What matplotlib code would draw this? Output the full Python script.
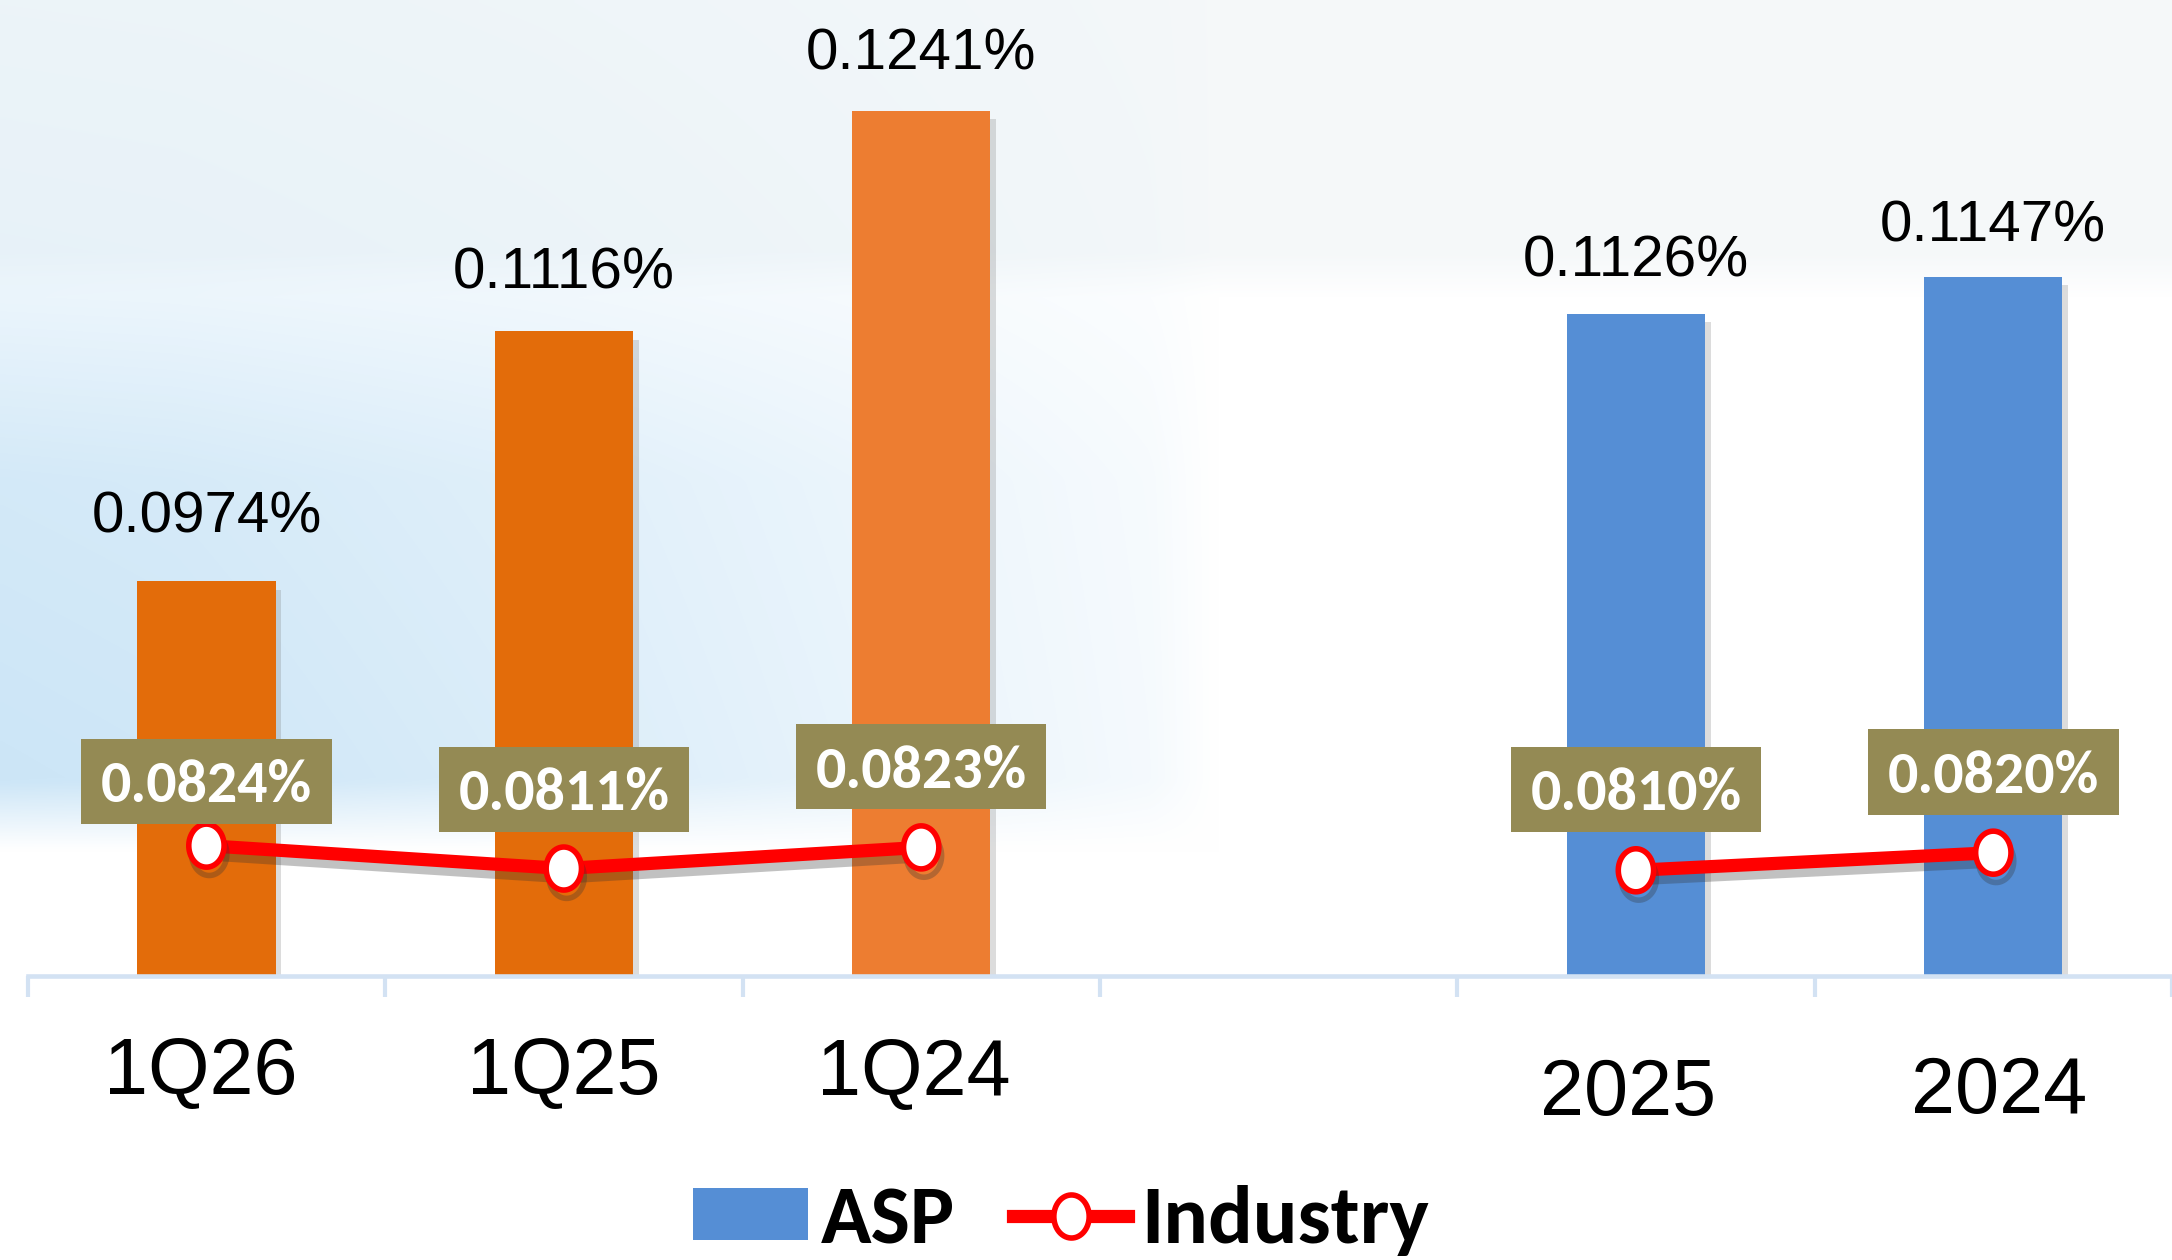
import numpy as np
import matplotlib
matplotlib.use('Agg')
import matplotlib.pyplot as plt
from matplotlib import font_manager as fm
from matplotlib.patches import Patch
from matplotlib.lines import Line2D
from matplotlib.path import Path
import matplotlib.patheffects as pe

# ---------------- data ----------------
categories = ['1Q26', '1Q25', '1Q24', '', '2025', '2024']
asp_values = [0.0974, 0.1116, 0.1241, None, 0.1126, 0.1147]
industry_quarter_cats = ['1Q26', '1Q25', '1Q24']
industry_quarter = [0.0824, 0.0811, 0.0823]
industry_year_cats = ['2025', '2024']
industry_year = [0.0810, 0.0820]
legend_labels = ['ASP', 'Industry']

# ---------------- styles ----------------
bar_colors = ['#E36C0A', '#E36C0A', '#ED7D31', 'none', '#558ED5', '#558ED5']
label_box_color = '#948A54'
axis_color = '#D3E2F3'
value_label_dy = {'1Q26': 35, '1Q25': 31, '1Q24': 30, '2025': 27, '2024': 25}
industry_label_dy = {'1Q26': 43, '1Q25': 54, '1Q24': 55, '2025': 55, '2024': 55}
cat_label_off = {'1Q26': (-4, 85), '1Q25': (0, 85), '1Q24': (-5, 86), '2025': (-6, 100), '2024': (4, 99)}

names = {f.name for f in fm.fontManager.ttflist}
def pick(*cands):
    for c in cands:
        if c in names:
            return c
    return 'DejaVu Sans'

light_font = pick('Helvetica Neue', 'Liberation Sans', 'Roboto', 'DejaVu Sans')
bold_font = pick('Carlito', 'Liberation Sans Narrow', 'Lato', 'Open Sans', 'DejaVu Sans')

W, H = 2172, 1260
fig = plt.figure(figsize=(W / 100, H / 100), dpi=100)

# ---------------- background ----------------
bg = fig.add_axes([0, 0, 1, 1], zorder=-10)
ny, nx = 252, 434
ys = np.linspace(0, 1, ny)[:, None]
xs = np.linspace(0, 1, nx)[None, :]
blue = np.array([0.80, 0.90, 0.968])
tint = np.array([0.962, 0.973, 0.978])
a_x = np.interp(xs, [0, 0.08, 0.25, 0.40, 0.53, 0.56], [1.0, 0.95, 0.72, 0.45, 0.2, 0.0])
a_y = np.interp(ys, [0, 0.22, 0.38, 0.62, 0.675], [0.22, 0.35, 0.85, 1.0, 0.0])
a_blue = a_x * a_y
a_tint = np.interp(ys, [0, 0.2, 0.235], [1.0, 1.0, 0.0]) * np.ones_like(xs)
img = np.ones((ny, nx, 3))
img = img * (1 - a_tint[..., None]) + tint * a_tint[..., None]
img = img * (1 - a_blue[..., None]) + blue * a_blue[..., None]
bg.imshow(img, aspect='auto', interpolation='bilinear', extent=[0, 1, 1, 0])
bg.set_xlim(0, 1)
bg.set_ylim(1, 0)
bg.axis('off')

# ---------------- main axes ----------------
base_px = 976
left_px = 27.75
ymin = 0.075
ax = fig.add_axes([left_px / W, (H - base_px) / H, 1 - left_px / W, base_px / H])
ax.patch.set_alpha(0)
ax.set_xlim(-0.5, 5.4645)
ax.set_ylim(ymin, 0.1304)

x = np.arange(len(categories))
for xi, c_name, v, c in zip(x, categories, asp_values, bar_colors):
    if v is None:
        continue
    b = ax.bar(xi, v - ymin, bottom=ymin, width=0.387, color=c, zorder=2)
    for p in b:
        p.set_path_effects([pe.SimplePatchShadow(offset=(4, -6), shadow_rgbFace='#777777', alpha=0.25),
                            pe.Normal()])
    ax.annotate(f'{v:.4f}%', xy=(xi, v), xytext=(0, value_label_dy[c_name]), textcoords='offset points',
                ha='center', va='baseline', fontsize=42, family=light_font, color='black')


def label_box(x0, y0, width, height, mutation_size):
    px = 0.33 * mutation_size
    pb = 0.20 * mutation_size
    ptop = 0.34 * mutation_size
    x1, x2 = x0 - px, x0 + width + px
    y1, y2 = y0 - pb, y0 + height + ptop
    return Path([(x1, y1), (x2, y1), (x2, y2), (x1, y2), (x1, y1)], closed=True)


# oval marker (slightly taller than wide)
t = np.linspace(0, 2 * np.pi, 60)
oval = Path(np.column_stack([0.82 * np.cos(t), np.sin(t)]), closed=True)

cat_pos = {c: i for i, c in enumerate(categories) if c}
line_kw = dict(color='#FF0000', lw=9.5, marker=oval, ms=31, mfc='white', mec='#FF0000', mew=4,
               zorder=5, solid_capstyle='round')
shadow = [pe.SimpleLineShadow(offset=(2, -6), shadow_color='#333333', alpha=0.3), pe.Normal()]
for cats, vals in [(industry_quarter_cats, industry_quarter), (industry_year_cats, industry_year)]:
    xp = [cat_pos[c] for c in cats]
    ln, = ax.plot(xp, vals, **line_kw)
    ln.set_path_effects(shadow)
    for c, xi, v in zip(cats, xp, vals):
        ax.annotate(f'{v:.4f}%', xy=(xi, v), xytext=(0, industry_label_dy[c]), textcoords='offset points',
                    ha='center', va='center', fontsize=43, fontweight='bold', family=bold_font,
                    color='white', zorder=6,
                    bbox=dict(boxstyle=label_box, fc=label_box_color, ec='none'))

# axis styling
for s in ['top', 'left', 'right']:
    ax.spines[s].set_visible(False)
ax.spines['bottom'].set_color(axis_color)
ax.spines['bottom'].set_linewidth(3.3)
ax.spines['bottom'].set_zorder(3)
ax.set_yticks([])
ax.set_xticks(np.arange(-0.5, 6.0, 1.0), minor=True)
ax.set_xticks([])
ax.tick_params(axis='x', which='minor', length=15, width=3, color=axis_color, direction='out')

for i, c in enumerate(categories):
    if not c:
        continue
    dx, dy = cat_label_off[c]
    ax.annotate(c, xy=(i, 0), xycoords=('data', 'axes fraction'), xytext=(dx, -dy),
                textcoords='offset points', ha='center', va='baseline', fontsize=57,
                family=light_font, color='black', annotation_clip=False)

# legend
handles = [Patch(facecolor='#558ED5', edgecolor='none'),
           Line2D([], [], color='#FF0000', lw=9.5, marker=oval, ms=31, mfc='white', mec='#FF0000', mew=4)]
fig.legend(handles, legend_labels, loc='center', bbox_to_anchor=(0.4885, 0.031), ncol=2,
           frameon=False, prop=dict(family=bold_font, weight='bold', size=60),
           handlelength=1.38, handleheight=0.58, handletextpad=0.15, columnspacing=0.7)

fig.savefig('out.png', dpi=100)
